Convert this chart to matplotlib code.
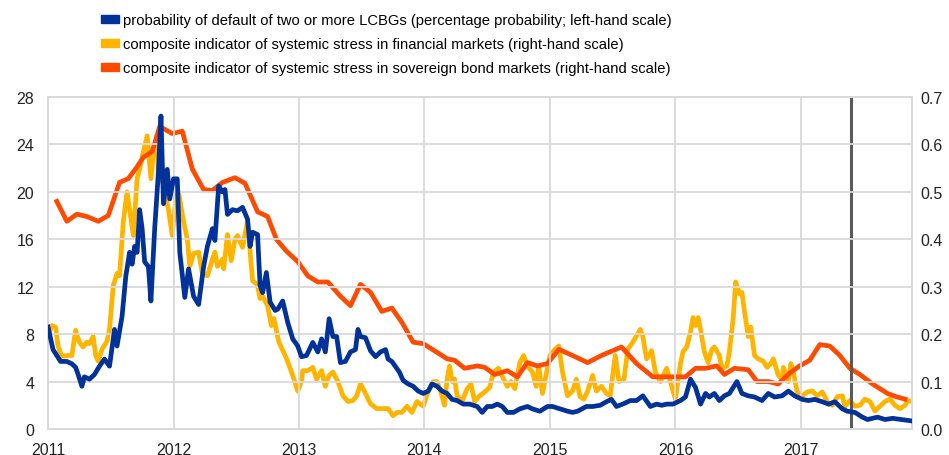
import matplotlib.pyplot as plt
from matplotlib.patches import Patch

plt.rcParams['font.family'] = ['Liberation Sans', 'DejaVu Sans']

# probability of default of two or more LCBGs (percent, left-hand scale)
pd_dates = [2011.00, 2011.04, 2011.10, 2011.15, 2011.19, 2011.22, 2011.24, 2011.27, 2011.29, 2011.33,
            2011.37, 2011.41, 2011.45, 2011.49, 2011.53, 2011.55, 2011.59, 2011.62, 2011.65, 2011.67,
            2011.69, 2011.71, 2011.73, 2011.75, 2011.77, 2011.80, 2011.82, 2011.85, 2011.88, 2011.90,
            2011.92, 2011.95, 2011.97, 2012.00, 2012.03, 2012.05, 2012.09, 2012.12, 2012.16, 2012.20,
            2012.24, 2012.27, 2012.31, 2012.33, 2012.36, 2012.39, 2012.41, 2012.43, 2012.47, 2012.51,
            2012.55, 2012.59, 2012.61, 2012.63, 2012.67, 2012.69, 2012.71, 2012.74, 2012.77, 2012.81,
            2012.83, 2012.87, 2012.91, 2012.95, 2012.99, 2013.02, 2013.06, 2013.11, 2013.15, 2013.18,
            2013.21, 2013.24, 2013.27, 2013.30, 2013.33, 2013.37, 2013.41, 2013.45, 2013.47, 2013.49,
            2013.53, 2013.57, 2013.61, 2013.65, 2013.69, 2013.71, 2013.74, 2013.78, 2013.80, 2013.83,
            2013.87, 2013.91, 2013.95, 2013.99, 2014.03, 2014.06, 2014.10, 2014.14, 2014.18, 2014.22,
            2014.26, 2014.31, 2014.36, 2014.42, 2014.46, 2014.50, 2014.54, 2014.58, 2014.62, 2014.66,
            2014.71, 2014.76, 2014.82, 2014.86, 2014.92, 2014.98, 2015.02, 2015.08, 2015.14, 2015.18,
            2015.22, 2015.29, 2015.34, 2015.40, 2015.45, 2015.49, 2015.53, 2015.58, 2015.64, 2015.69,
            2015.74, 2015.80, 2015.85, 2015.89, 2015.93, 2015.98, 2016.04, 2016.08, 2016.12, 2016.16,
            2016.20, 2016.24, 2016.27, 2016.31, 2016.35, 2016.39, 2016.43, 2016.49, 2016.53, 2016.58,
            2016.63, 2016.69, 2016.74, 2016.79, 2016.85, 2016.90, 2016.95, 2017.01, 2017.06, 2017.11,
            2017.17, 2017.22, 2017.27, 2017.33, 2017.37, 2017.43, 2017.49, 2017.53, 2017.61, 2017.67,
            2017.73, 2017.80, 2017.87]
pd_values = [8.6, 6.7, 5.7, 5.7, 5.5, 5.2, 4.6, 3.6, 4.4, 4.2,
             4.6, 5.3, 5.9, 5.3, 8.4, 7.0, 9.5, 12.9, 14.9, 13.9,
             15.4, 14.9, 18.5, 16.9, 14.1, 13.7, 10.8, 16.9, 21.7, 26.4,
             19.0, 21.9, 19.4, 21.1, 21.1, 14.9, 11.1, 13.5, 11.2, 10.5,
             13.7, 15.4, 16.9, 15.9, 20.5, 20.0, 20.2, 18.1, 18.5, 18.4,
             18.7, 17.7, 15.4, 16.6, 16.4, 12.1, 11.5, 13.2, 10.7, 10.0,
             10.1, 10.8, 9.0, 7.6, 7.0, 6.1, 6.2, 7.3, 6.5, 7.6,
             6.5, 9.3, 7.8, 7.8, 5.6, 5.7, 6.5, 6.7, 8.4, 7.8,
             7.7, 6.6, 6.1, 6.5, 6.7, 5.9, 5.7, 5.1, 4.8, 4.1,
             3.8, 3.6, 3.2, 3.0, 3.2, 3.8, 3.6, 3.2, 3.0, 2.5,
             2.4, 2.1, 2.1, 1.9, 1.4, 1.9, 1.9, 2.1, 1.9, 1.4,
             1.4, 1.7, 1.9, 1.7, 1.5, 1.9, 1.9, 1.7, 1.5, 1.4,
             1.5, 1.9, 1.9, 2.0, 2.3, 2.5, 1.9, 2.1, 2.4, 2.4,
             2.8, 1.9, 2.1, 2.0, 2.1, 2.1, 2.4, 2.7, 4.2, 3.5,
             2.1, 3.0, 2.7, 3.0, 2.4, 2.8, 3.0, 4.0, 3.0, 2.8,
             2.7, 2.4, 3.0, 2.7, 2.8, 3.2, 2.8, 2.5, 2.4, 2.5,
             2.3, 2.1, 2.3, 1.7, 1.5, 1.4, 1.0, 0.8, 1.0, 0.8,
             0.9, 0.8, 0.7]

# composite indicator of systemic stress in financial markets (right-hand scale)
fin_dates = [2011.00, 2011.03, 2011.06, 2011.08, 2011.11, 2011.15, 2011.19, 2011.22, 2011.25, 2011.28,
             2011.31, 2011.33, 2011.36, 2011.38, 2011.40, 2011.43, 2011.47, 2011.49, 2011.52, 2011.55,
             2011.57, 2011.60, 2011.63, 2011.65, 2011.68, 2011.71, 2011.73, 2011.76, 2011.79, 2011.82,
             2011.84, 2011.87, 2011.88, 2011.92, 2011.94, 2011.96, 2011.99, 2012.02, 2012.04, 2012.08,
             2012.11, 2012.13, 2012.16, 2012.20, 2012.23, 2012.27, 2012.31, 2012.33, 2012.35, 2012.39,
             2012.40, 2012.43, 2012.46, 2012.49, 2012.51, 2012.55, 2012.59, 2012.63, 2012.67, 2012.69,
             2012.71, 2012.75, 2012.78, 2012.80, 2012.84, 2012.89, 2012.93, 2012.96, 2012.99, 2013.02,
             2013.03, 2013.07, 2013.11, 2013.14, 2013.18, 2013.21, 2013.24, 2013.27, 2013.31, 2013.35,
             2013.39, 2013.43, 2013.46, 2013.49, 2013.53, 2013.57, 2013.62, 2013.67, 2013.71, 2013.75,
             2013.78, 2013.82, 2013.86, 2013.90, 2013.94, 2013.99, 2014.03, 2014.07, 2014.10, 2014.13,
             2014.16, 2014.18, 2014.20, 2014.22, 2014.24, 2014.26, 2014.30, 2014.34, 2014.37, 2014.40,
             2014.44, 2014.48, 2014.52, 2014.55, 2014.59, 2014.63, 2014.66, 2014.69, 2014.72, 2014.76,
             2014.79, 2014.82, 2014.86, 2014.89, 2014.91, 2014.94, 2014.98, 2015.00, 2015.04, 2015.07,
             2015.10, 2015.14, 2015.18, 2015.21, 2015.24, 2015.27, 2015.30, 2015.34, 2015.37, 2015.41,
             2015.45, 2015.48, 2015.52, 2015.55, 2015.59, 2015.62, 2015.66, 2015.72, 2015.74, 2015.77,
             2015.81, 2015.84, 2015.88, 2015.93, 2015.97, 2016.00, 2016.04, 2016.06, 2016.09, 2016.12,
             2016.14, 2016.16, 2016.18, 2016.20, 2016.23, 2016.26, 2016.29, 2016.31, 2016.35, 2016.37,
             2016.41, 2016.43, 2016.46, 2016.48, 2016.51, 2016.53, 2016.55, 2016.58, 2016.60, 2016.63,
             2016.66, 2016.70, 2016.73, 2016.76, 2016.78, 2016.82, 2016.85, 2016.86, 2016.90, 2016.92,
             2016.94, 2016.97, 2017.01, 2017.05, 2017.09, 2017.13, 2017.17, 2017.19, 2017.22, 2017.25,
             2017.29, 2017.33, 2017.35, 2017.39, 2017.43, 2017.47, 2017.51, 2017.55, 2017.59, 2017.63,
             2017.67, 2017.71, 2017.75, 2017.79, 2017.83, 2017.85, 2017.88]
fin_values = [0.195, 0.218, 0.215, 0.175, 0.153, 0.155, 0.155, 0.208, 0.183, 0.173,
              0.183, 0.180, 0.195, 0.155, 0.143, 0.168, 0.185, 0.210, 0.303, 0.328,
              0.323, 0.438, 0.500, 0.463, 0.408, 0.528, 0.548, 0.585, 0.618, 0.528,
              0.585, 0.605, 0.520, 0.533, 0.485, 0.463, 0.408, 0.490, 0.500, 0.438,
              0.400, 0.343, 0.370, 0.373, 0.328, 0.323, 0.358, 0.373, 0.343, 0.358,
              0.338, 0.410, 0.355, 0.400, 0.408, 0.383, 0.438, 0.313, 0.303, 0.275,
              0.280, 0.260, 0.218, 0.233, 0.183, 0.155, 0.128, 0.105, 0.080, 0.100,
              0.123, 0.123, 0.130, 0.105, 0.123, 0.090, 0.113, 0.120, 0.100, 0.070,
              0.058, 0.060, 0.070, 0.095, 0.075, 0.053, 0.043, 0.043, 0.043, 0.028,
              0.035, 0.035, 0.048, 0.035, 0.058, 0.048, 0.080, 0.100, 0.100, 0.078,
              0.050, 0.105, 0.133, 0.100, 0.105, 0.070, 0.058, 0.085, 0.095, 0.058,
              0.070, 0.078, 0.088, 0.120, 0.128, 0.105, 0.090, 0.100, 0.085, 0.140,
              0.155, 0.133, 0.120, 0.090, 0.133, 0.075, 0.128, 0.155, 0.168, 0.175,
              0.120, 0.070, 0.080, 0.105, 0.068, 0.063, 0.080, 0.113, 0.080, 0.090,
              0.075, 0.070, 0.155, 0.100, 0.105, 0.168, 0.183, 0.210, 0.195, 0.148,
              0.165, 0.120, 0.100, 0.128, 0.090, 0.063, 0.138, 0.163, 0.173, 0.205,
              0.235, 0.218, 0.235, 0.210, 0.163, 0.140, 0.168, 0.173, 0.155, 0.128,
              0.133, 0.163, 0.233, 0.310, 0.285, 0.288, 0.248, 0.195, 0.215, 0.155,
              0.148, 0.143, 0.130, 0.138, 0.148, 0.113, 0.105, 0.130, 0.100, 0.138,
              0.120, 0.078, 0.070, 0.078, 0.080, 0.070, 0.078, 0.068, 0.053, 0.050,
              0.068, 0.070, 0.048, 0.060, 0.048, 0.050, 0.063, 0.058, 0.038, 0.048,
              0.058, 0.063, 0.050, 0.043, 0.050, 0.060, 0.058]

# composite indicator of systemic stress in sovereign bond markets (right-hand scale)
sov_dates = [2011.07, 2011.15, 2011.23, 2011.31, 2011.40, 2011.48, 2011.57, 2011.64, 2011.71, 2011.76,
             2011.83, 2011.89, 2011.99, 2012.07, 2012.15, 2012.24, 2012.31, 2012.39, 2012.49, 2012.57,
             2012.67, 2012.75, 2012.82, 2012.90, 2012.99, 2013.07, 2013.15, 2013.23, 2013.33, 2013.41,
             2013.49, 2013.57, 2013.66, 2013.74, 2013.82, 2013.91, 2013.99, 2014.08, 2014.18, 2014.24,
             2014.32, 2014.42, 2014.48, 2014.56, 2014.66, 2014.74, 2014.82, 2014.90, 2014.98, 2015.07,
             2015.18, 2015.30, 2015.41, 2015.57, 2015.69, 2015.82, 2015.98, 2016.08, 2016.16, 2016.24,
             2016.33, 2016.39, 2016.47, 2016.58, 2016.65, 2016.74, 2016.82, 2016.91, 2016.99, 2017.07,
             2017.15, 2017.23, 2017.31, 2017.39, 2017.47, 2017.57, 2017.69, 2017.76, 2017.83]
sov_values = [0.480, 0.438, 0.453, 0.448, 0.438, 0.450, 0.520, 0.528, 0.553, 0.573,
              0.585, 0.638, 0.623, 0.628, 0.548, 0.505, 0.503, 0.520, 0.530, 0.518,
              0.458, 0.448, 0.400, 0.375, 0.353, 0.323, 0.310, 0.310, 0.280, 0.260,
              0.305, 0.288, 0.248, 0.255, 0.225, 0.183, 0.180, 0.165, 0.148, 0.145,
              0.128, 0.133, 0.130, 0.115, 0.123, 0.110, 0.140, 0.133, 0.138, 0.168,
              0.155, 0.140, 0.155, 0.173, 0.138, 0.110, 0.110, 0.110, 0.128, 0.128,
              0.133, 0.115, 0.128, 0.125, 0.100, 0.100, 0.095, 0.118, 0.133, 0.145,
              0.178, 0.175, 0.155, 0.128, 0.115, 0.095, 0.075, 0.068, 0.063]

years = [2011, 2012, 2013, 2014, 2015, 2016, 2017]
left_ticks = [0, 4, 8, 12, 16, 20, 24, 28]
right_ticks = [0.0, 0.1, 0.2, 0.3, 0.4, 0.5, 0.6, 0.7]
cutoff = 2017.40

blue = '#003299'
yellow = '#ffb400'
orange = '#ff4b00'
grid = '#d9d9d9'

fig = plt.figure(figsize=(9.49, 4.56), dpi=100)
ax = fig.add_axes([0.0506, 0.057, 0.9104, 0.728])
ax2 = ax.twinx()

ax.plot(pd_dates, pd_values, color=blue, lw=3.4, solid_joinstyle='round', zorder=3)
ax2.plot(fin_dates, fin_values, color=yellow, lw=3.4, solid_joinstyle='round', zorder=2)
ax2.plot(sov_dates, sov_values, color=orange, lw=3.4, solid_joinstyle='round', zorder=2)
ax2.axvline(cutoff, color='#5a5a5a', lw=2.2, zorder=4)

# blue line on top of the twin axes
ax.set_zorder(ax2.get_zorder() + 1)
ax.patch.set_visible(False)

ax.set_xlim(2011.0, 2017.885)
ax.set_ylim(0, 28)
ax2.set_ylim(0, 0.7)
ax.set_xticks(years)
ax.set_xticklabels([str(y) for y in years])
ax.set_yticks(left_ticks)
ax2.set_yticks(right_ticks)
ax2.set_yticklabels(['%.1f' % v for v in right_ticks])

ax.grid(True, color=grid, lw=1.3)
ax.set_axisbelow(True)
for a in (ax, ax2):
    for s in a.spines.values():
        s.set_color(grid)
        s.set_linewidth(1.3)
    a.tick_params(length=0, labelsize=11.5, colors='#222222')
ax.tick_params(axis='x', pad=9)
ax.tick_params(axis='y', pad=10)
ax2.tick_params(axis='y', pad=6)

handles = [Patch(color=blue), Patch(color=yellow), Patch(color=orange)]
labels = ['probability of default of two or more LCBGs (percentage probability; left-hand scale)',
          'composite indicator of systemic stress in financial markets (right-hand scale)',
          'composite indicator of systemic stress in sovereign bond markets (right-hand scale)']
fig.legend(handles, labels, loc='upper left', bbox_to_anchor=(0.096, 0.992), frameon=False,
           fontsize=10.6, handlelength=1.2, handleheight=0.45, handletextpad=0.3,
           labelspacing=0.68, borderaxespad=0.3)

fig.savefig('out.png', dpi=100)
